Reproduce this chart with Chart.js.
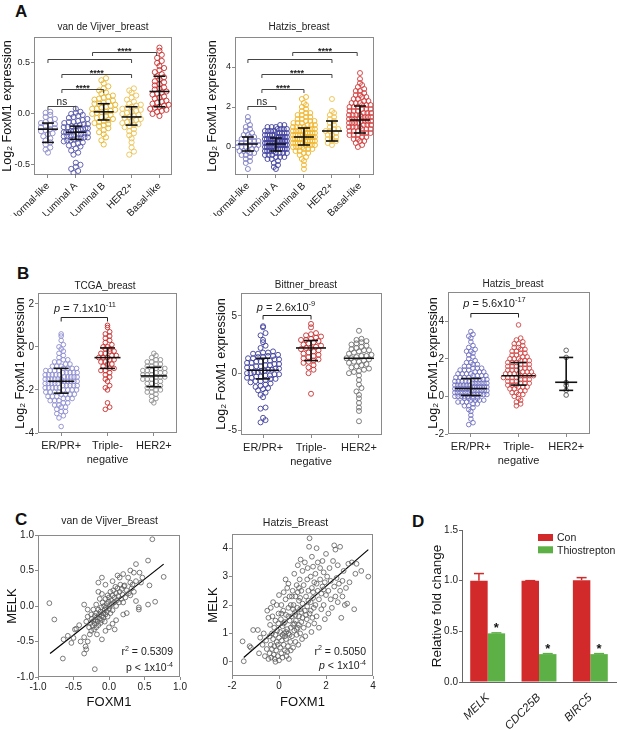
<!DOCTYPE html>
<html><head><meta charset="utf-8">
<script src="https://cdn.jsdelivr.net/npm/chart.js@4.4.0/dist/chart.umd.min.js"></script>
<style>
html,body{margin:0;padding:0;background:#fff}
body{width:617px;height:729px;position:relative;overflow:hidden;font-family:"Liberation Sans",Arial,sans-serif}
canvas{position:absolute}
.pl{position:absolute;font-weight:bold;font-size:17px;line-height:17px;color:#111}
</style></head>
<body>
<div class="pl" style="left:15px;top:3px">A</div>
<div class="pl" style="left:17px;top:265px">B</div>
<div class="pl" style="left:15px;top:511px">C</div>
<div class="pl" style="left:412px;top:513px">D</div>
<script>
// ---------------- DATA ----------------
const subtypes = ['Normal-like','Luminal A','Luminal B','HER2+','Basal-like'];
const receptorCats = ['ER/PR+', ['Triple-','negative'], 'HER2+'];

// Panel A - van de Vijver
const vdvNormal = [0.02,0.01,-0.01,-0.03,-0.05,-0.06,-0.08,-0.09,-0.10,-0.11,-0.12,-0.13,-0.14,-0.15,-0.16,-0.17,-0.19,-0.20,-0.22,-0.24,-0.26,-0.28,-0.30,-0.33,-0.35,-0.38];
const vdvLumA = [0.05,0.02,0.01,0.0,-0.01,-0.02,-0.03,-0.04,-0.05,-0.06,-0.07,-0.08,-0.08,-0.09,-0.10,-0.10,-0.11,-0.12,-0.12,-0.13,-0.13,-0.14,-0.14,-0.15,-0.15,-0.16,-0.16,-0.17,-0.17,-0.18,-0.18,-0.18,-0.19,-0.19,-0.20,-0.20,-0.21,-0.21,-0.22,-0.22,-0.23,-0.23,-0.24,-0.24,-0.25,-0.26,-0.26,-0.27,-0.28,-0.29,-0.30,-0.31,-0.32,-0.34,-0.36,-0.38,-0.40,-0.48,-0.50,-0.52,-0.54,-0.56,-0.58];
const vdvLumB = [0.35,0.33,0.30,0.27,0.25,0.23,0.21,0.20,0.18,0.17,0.16,0.15,0.14,0.13,0.12,0.11,0.10,0.10,0.09,0.08,0.07,0.06,0.05,0.05,0.04,0.03,0.02,0.02,0.01,0.0,-0.01,-0.02,-0.03,-0.04,-0.05,-0.06,-0.07,-0.08,-0.09,-0.10,-0.11,-0.12,-0.14,-0.16,-0.18,-0.20,-0.23,-0.26,-0.30];
const vdvHER2 = [0.25,0.23,0.21,0.18,0.16,0.14,0.12,0.10,0.09,0.08,0.07,0.06,0.05,0.04,0.03,0.02,0.01,0.0,-0.01,-0.02,-0.03,-0.04,-0.05,-0.06,-0.07,-0.08,-0.09,-0.10,-0.11,-0.12,-0.13,-0.15,-0.17,-0.19,-0.21,-0.24,-0.28,-0.33,-0.37,-0.40];
const vdvBasal = [0.65,0.62,0.58,0.55,0.52,0.50,0.47,0.45,0.43,0.41,0.39,0.37,0.36,0.34,0.32,0.31,0.29,0.28,0.26,0.25,0.24,0.22,0.21,0.20,0.19,0.17,0.16,0.15,0.13,0.12,0.11,0.10,0.09,0.08,0.07,0.06,0.05,0.04,0.03,0.02,0.0,-0.02];
const vdvMedian = [-0.15,-0.18,0.02,-0.03,0.22];
const vdvQ1 = [-0.28,-0.25,-0.06,-0.11,0.07];
const vdvQ3 = [-0.09,-0.12,0.10,0.07,0.37];
const vdvBrackets = [
  {from:0, to:1, y:0.078, label:'ns'},
  {from:0.5, to:2, y:0.242, label:'****'},
  {from:0.5, to:3, y:0.392, label:'****'},
  {from:0, to:3, y:0.536, label:''},
  {from:1.6, to:3.9, y:0.605, label:'****'}
];

// Panel A - Hatzis
const hzNormal = [1.5,1.3,1.1,1.0,0.9,0.8,0.7,0.6,0.6,0.5,0.5,0.4,0.4,0.3,0.3,0.3,0.2,0.2,0.2,0.1,0.1,0.1,0.0,0.0,0.0,-0.1,-0.1,-0.2,-0.2,-0.2,-0.3,-0.3,-0.4,-0.4,-0.5,-0.6,-0.7,-0.8,-1.1];
const hzLumA = [1.1,1.1,1.0,1.0,1.0,0.9,0.9,0.9,0.9,0.8,0.8,0.8,0.8,0.7,0.7,0.7,0.7,0.7,0.6,0.6,0.6,0.6,0.6,0.5,0.5,0.5,0.5,0.5,0.5,0.4,0.4,0.4,0.4,0.4,0.4,0.3,0.3,0.3,0.3,0.3,0.3,0.3,0.2,0.2,0.2,0.2,0.2,0.2,0.2,0.1,0.1,0.1,0.1,0.1,0.1,0.1,0.0,0.0,0.0,0.0,0.0,0.0,-0.1,-0.1,-0.1,-0.1,-0.1,-0.1,-0.2,-0.2,-0.2,-0.2,-0.2,-0.3,-0.3,-0.3,-0.3,-0.4,-0.4,-0.4,-0.5,-0.5,-0.5,-0.6,-0.6,-0.7,-0.8,-0.9,-1.0,-1.1];
const hzLumB = [2.5,2.4,2.2,2.1,2.0,1.9,1.8,1.7,1.7,1.6,1.6,1.5,1.5,1.4,1.4,1.3,1.3,1.3,1.2,1.2,1.2,1.1,1.1,1.1,1.0,1.0,1.0,1.0,0.9,0.9,0.9,0.9,0.8,0.8,0.8,0.8,0.7,0.7,0.7,0.7,0.7,0.6,0.6,0.6,0.6,0.6,0.5,0.5,0.5,0.5,0.5,0.5,0.4,0.4,0.4,0.4,0.4,0.3,0.3,0.3,0.3,0.3,0.2,0.2,0.2,0.2,0.2,0.1,0.1,0.1,0.1,0.0,0.0,0.0,0.0,-0.1,-0.1,-0.1,-0.2,-0.2,-0.3,-0.3,-0.4,-0.5,-0.6,-0.7,-0.9,-1.1];
const hzHER2 = [2.4,1.8,1.7,1.6,1.5,1.4,1.3,1.2,1.1,1.0,0.9,0.9,0.8,0.8,0.7,0.6,0.6,0.5,0.4,0.4,0.3,0.3,0.2,0.1];
const hzBasal = [3.7,3.4,3.2,3.1,3.0,2.9,2.8,2.8,2.7,2.6,2.6,2.5,2.5,2.4,2.4,2.3,2.3,2.2,2.2,2.2,2.1,2.1,2.1,2.0,2.0,2.0,1.9,1.9,1.9,1.8,1.8,1.8,1.7,1.7,1.7,1.6,1.6,1.6,1.6,1.5,1.5,1.5,1.5,1.4,1.4,1.4,1.4,1.3,1.3,1.3,1.3,1.2,1.2,1.2,1.2,1.1,1.1,1.1,1.0,1.0,1.0,1.0,0.9,0.9,0.9,0.8,0.8,0.8,0.7,0.7,0.7,0.6,0.6,0.6,0.5,0.5,0.4,0.4,0.3,0.3,0.2,0.1,0.0];
const hzMedian = [0.15,0.15,0.5,0.8,1.35];
const hzQ1 = [-0.2,-0.2,0.1,0.3,0.7];
const hzQ3 = [0.5,0.45,0.95,1.3,2.05];
const hzBrackets = [
  {from:0, to:1, y:2.05, label:'ns'},
  {from:0.5, to:2, y:2.88, label:'****'},
  {from:0.5, to:3, y:3.65, label:'****'},
  {from:0, to:3, y:4.38, label:''},
  {from:1.6, to:3.9, y:4.73, label:'****'}
];

// Panel B - TCGA
const tcgaER = [0.6,0.5,0.3,0.1,0.0,-0.1,-0.2,-0.3,-0.4,-0.5,-0.6,-0.6,-0.7,-0.7,-0.8,-0.8,-0.9,-0.9,-0.9,-1.0,-1.0,-1.0,-1.0,-1.1,-1.1,-1.1,-1.1,-1.2,-1.2,-1.2,-1.2,-1.2,-1.3,-1.3,-1.3,-1.3,-1.3,-1.4,-1.4,-1.4,-1.4,-1.4,-1.5,-1.5,-1.5,-1.5,-1.5,-1.5,-1.6,-1.6,-1.6,-1.6,-1.6,-1.6,-1.7,-1.7,-1.7,-1.7,-1.7,-1.8,-1.8,-1.8,-1.8,-1.8,-1.9,-1.9,-1.9,-1.9,-1.9,-2.0,-2.0,-2.0,-2.0,-2.1,-2.1,-2.1,-2.1,-2.2,-2.2,-2.2,-2.2,-2.3,-2.3,-2.3,-2.4,-2.4,-2.4,-2.5,-2.5,-2.5,-2.6,-2.6,-2.7,-2.7,-2.8,-2.8,-2.9,-3.0,-3.0,-3.1,-3.2,-3.3,-3.7];
const tcgaTN = [1.0,0.9,0.7,0.6,0.5,0.4,0.3,0.2,0.1,0.0,0.0,-0.1,-0.1,-0.2,-0.2,-0.3,-0.3,-0.4,-0.4,-0.5,-0.5,-0.5,-0.6,-0.6,-0.7,-0.7,-0.8,-0.8,-0.9,-1.0,-1.0,-1.1,-1.1,-1.2,-1.3,-1.4,-1.5,-1.6,-1.8,-1.9,-2.0,-2.6,-2.8,-2.9];
const tcgaHER2 = [-0.3,-0.4,-0.5,-0.6,-0.6,-0.7,-0.7,-0.8,-0.8,-0.9,-0.9,-1.0,-1.0,-1.0,-1.1,-1.1,-1.1,-1.2,-1.2,-1.2,-1.3,-1.3,-1.3,-1.4,-1.4,-1.4,-1.5,-1.5,-1.5,-1.6,-1.6,-1.7,-1.7,-1.8,-1.8,-1.9,-1.9,-2.0,-2.0,-2.1,-2.1,-2.2,-2.3,-2.4,-2.5,-2.6];
const tcgaMedian = [-1.6,-0.5,-1.35];
const tcgaQ1 = [-2.15,-1.0,-1.85];
const tcgaQ3 = [-1.0,-0.05,-0.95];

// Panel B - Bittner
const bitER = [4.1,4.0,3.5,3.3,2.9,2.7,2.4,2.2,1.9,1.8,1.8,1.7,1.7,1.6,1.5,1.5,1.4,1.4,1.3,1.3,1.2,1.2,1.1,1.1,1.0,1.0,0.9,0.9,0.8,0.8,0.7,0.7,0.6,0.6,0.5,0.5,0.4,0.4,0.3,0.3,0.2,0.2,0.1,0.1,0.0,0.0,-0.1,-0.1,-0.2,-0.2,-0.3,-0.3,-0.4,-0.4,-0.5,-0.5,-0.6,-0.7,-0.7,-0.8,-0.9,-1.0,-1.1,-1.2,-1.3,-1.4,-1.5,-1.7,-1.9,-2.1,-3.0,-3.1,-3.9,-4.1,-4.3];
const bitTN = [4.3,4.0,3.5,3.4,3.3,3.2,3.1,3.0,2.9,2.9,2.8,2.7,2.6,2.5,2.4,2.3,2.2,2.2,2.1,2.0,1.9,1.8,1.7,1.6,1.5,1.4,1.3,1.2,1.1,1.0,0.9,0.7,0.5,0.3,0.0,-1.8];
const bitHER2 = [3.7,3.0,2.9,2.8,2.7,2.6,2.5,2.4,2.3,2.2,2.1,2.0,2.0,1.9,1.8,1.7,1.6,1.5,1.5,1.4,1.3,1.3,1.2,1.1,1.0,1.0,0.9,0.8,0.7,0.6,0.5,0.4,0.3,0.2,0.1,0.0,-0.2,-0.6,-1.0,-1.3,-1.6,-1.9,-2.2,-2.6,-3.0,-3.3,-4.2];
const bitMedian = [0.25,2.2,1.3];
const bitQ1 = [-0.5,1.1,null];
const bitQ3 = [1.3,2.85,null];

// Panel B - Hatzis
const hzbER = [3.45,3.3,3.2,3.1,2.9,2.7,2.6,2.5,2.4,2.4,2.3,2.2,2.1,2.0,1.9,1.8,1.8,1.7,1.7,1.6,1.6,1.5,1.5,1.5,1.4,1.4,1.4,1.3,1.3,1.3,1.2,1.2,1.2,1.2,1.1,1.1,1.1,1.1,1.0,1.0,1.0,1.0,0.9,0.9,0.9,0.9,0.9,0.8,0.8,0.8,0.8,0.8,0.7,0.7,0.7,0.7,0.7,0.7,0.6,0.6,0.6,0.6,0.6,0.6,0.5,0.5,0.5,0.5,0.5,0.5,0.5,0.4,0.4,0.4,0.4,0.4,0.4,0.4,0.3,0.3,0.3,0.3,0.3,0.3,0.3,0.2,0.2,0.2,0.2,0.2,0.2,0.1,0.1,0.1,0.1,0.1,0.1,0.0,0.0,0.0,0.0,0.0,-0.1,-0.1,-0.1,-0.1,-0.2,-0.2,-0.2,-0.2,-0.3,-0.3,-0.3,-0.4,-0.4,-0.5,-0.5,-0.6,-0.7,-0.8,-1.0,-1.2,-1.4,-1.5];
const hzbTN = [3.8,3.1,3.0,2.9,2.8,2.8,2.7,2.6,2.6,2.5,2.5,2.4,2.4,2.3,2.3,2.2,2.2,2.1,2.1,2.0,2.0,2.0,1.9,1.9,1.9,1.8,1.8,1.8,1.7,1.7,1.7,1.6,1.6,1.6,1.5,1.5,1.5,1.4,1.4,1.4,1.3,1.3,1.3,1.2,1.2,1.2,1.2,1.1,1.1,1.1,1.1,1.0,1.0,1.0,1.0,0.9,0.9,0.9,0.8,0.8,0.8,0.7,0.7,0.7,0.6,0.6,0.6,0.5,0.5,0.5,0.4,0.4,0.3,0.3,0.2,0.2,0.1,0.1,0.0,-0.1,-0.2,-0.3,-0.4,-0.5];
const hzbHER2 = [2.45,2.07,0.74,0.58,0.32,0.07];
const hzbMedian = [0.42,1.1,0.75];
const hzbQ1 = [0.05,0.6,0.32];
const hzbQ3 = [0.95,1.8,2.07];

// Panel C - scatter (FOXM1, MELK)
const vdvScatter = [[-0.84,0.04],[-0.77,-0.19],[-0.65,-0.74],[-0.64,-0.47],[-0.58,-0.42],[-0.53,-0.52],[-0.5,-0.45],[-0.48,-0.33],[-0.46,-0.32],[-0.42,-0.27],[-0.40,-0.50],[-0.35,-0.67],[-0.35,-0.44],[-0.33,-0.57],[-0.32,-0.61],[-0.30,-0.50],[-0.2,-0.89],[-0.35,0.02],[-0.3,-0.05],
[0.61,0.94],[0.77,0.41],[0.65,0.06],[0.55,0.02],[0.57,0.29],[0.55,0.64],[0.38,0.59],[0.43,0.47],[0.47,0.4],[0.3,0.5],[0.35,0.47],[0.42,-0.05],[0.42,-0.02],[0.38,0.07],[0.45,0.33],[0.27,0.4],[0.2,0.45],[0.15,0.4],[0.12,0.43],[-0.1,0.4],[-0.15,0.33],[-0.05,0.3],[0.05,0.35],[-0.1,0.17],[-0.15,0.2],[0.2,-0.12],[0.25,-0.1],[0.1,-0.2],[0.05,-0.25],[0.0,-0.3],[0.08,-0.33],[-0.05,-0.35],[-0.1,-0.47],[-0.17,-0.4],[0.33,0.3],[0.3,0.33],[0.22,0.29],[0.25,0.22],[0.28,0.18],[0.3,0.15],[0.32,0.25],[0.35,0.2],[0.38,0.35],
[-0.28,-0.30],[-0.26,-0.24],[-0.25,-0.35],[-0.24,-0.18],[-0.23,-0.28],[-0.22,-0.21],[-0.21,-0.33],[-0.20,-0.14],[-0.20,-0.25],[-0.19,-0.20],[-0.18,-0.30],[-0.18,-0.10],[-0.17,-0.16],[-0.16,-0.22],[-0.15,-0.05],[-0.15,-0.27],[-0.14,-0.12],[-0.13,-0.18],[-0.12,-0.08],[-0.12,-0.24],[-0.11,-0.02],[-0.10,-0.14],[-0.10,-0.20],[-0.09,0.05],[-0.08,-0.10],[-0.08,-0.16],[-0.07,0.0],[-0.06,-0.05],[-0.06,-0.22],[-0.05,0.10],[-0.05,-0.12],[-0.04,-0.02],[-0.03,0.03],[-0.03,-0.08],[-0.02,0.15],[-0.02,-0.15],[-0.01,0.06],[0.0,-0.04],[0.0,0.12],[0.01,0.0],[0.02,0.20],[0.02,-0.10],[0.03,0.08],[0.04,0.03],[0.05,0.15],[0.05,-0.06],[0.06,0.22],[0.07,0.05],[0.08,0.12],[0.09,0.27],[0.10,0.0],[0.10,0.18],[0.11,0.08],[0.12,0.25],[0.13,0.14],[0.14,0.05],[0.15,0.20],[0.16,0.30],[0.17,0.10],[0.18,0.24],[0.19,0.16],[0.20,0.05],[0.21,0.28],[0.23,0.12],[-0.30,-0.15],[-0.32,-0.22],[-0.27,-0.40],[-0.22,-0.05],[-0.25,-0.12],[-0.13,0.1],[-0.18,0.02]];
const vdvFit = [[-0.83,-0.67],[0.77,0.59]];

const hzScatter = [[-1.5,0.02],[-1.55,0.72],[-1.1,1.12],[-0.9,1.12],[-1.2,0.5],[-1.25,0.55],[-0.85,0.3],[-0.8,0.85],[-0.7,0.6],[-0.65,1.0],[-0.6,0.2],[-0.55,0.75],[-0.5,1.8],[-0.52,0.45],[-0.45,0.1],
[-0.4,0.3],[-0.4,0.9],[-0.38,1.3],[-0.35,0.6],[-0.33,0.15],[-0.3,1.0],[-0.3,0.45],[-0.28,1.6],[-0.25,0.8],[-0.22,0.25],[-0.2,1.2],[-0.2,0.55],[-0.18,0.1],[-0.15,0.95],[-0.15,1.45],[-0.12,0.4],[-0.1,0.7],[-0.1,2.0],[-0.08,1.1],[-0.05,0.2],[-0.05,0.6],[-0.03,1.35],[0.0,0.85],[0.0,0.05],[0.0,2.35],[-0.02,1.7],[-0.45,1.55],[-0.35,1.9],[-0.25,2.1],[-0.15,0.0],
[0.05,0.5],[0.05,1.05],[0.08,1.5],[0.1,0.3],[0.1,2.0],[0.12,0.75],[0.15,1.25],[0.15,0.15],[0.18,1.8],[0.2,0.6],[0.2,2.45],[0.22,1.0],[0.25,0.4],[0.25,1.4],[0.28,2.2],[0.3,0.8],[0.3,1.65],[0.32,0.2],[0.35,1.15],[0.35,2.6],[0.38,0.55],[0.4,1.9],[0.4,1.0],[0.42,0.1],[0.45,1.45],[0.45,2.3],[0.48,0.7],[0.5,1.2],[0.5,2.0],[0.5,0.4],[0.1,1.7],[0.2,1.35],[0.3,1.05],[0.4,1.6],[0.15,0.95],[0.25,0.9],[0.35,0.35],[0.45,0.95],[0.28,2.9],[0.4,2.75],
[0.55,1.6],[0.55,0.9],[0.58,2.5],[0.6,1.3],[0.6,0.5],[0.62,2.0],[0.65,1.1],[0.65,3.1],[0.68,1.75],[0.7,0.7],[0.7,2.3],[0.72,1.45],[0.75,0.95],[0.75,2.7],[0.78,1.9],[0.8,1.2],[0.8,3.4],[0.82,0.6],[0.85,2.15],[0.85,1.6],[0.88,2.9],[0.9,1.0],[0.9,1.85],[0.92,3.6],[0.95,1.4],[0.95,2.5],[0.98,0.8],[1.0,2.05],[1.0,1.55],[1.0,3.2],[0.6,1.85],[0.7,1.65],[0.8,2.45],[0.9,2.25],[0.65,1.35],[0.75,1.15],[0.85,1.3],[0.95,1.75],[0.55,2.3],[0.85,2.6],
[1.05,1.2],[1.05,2.7],[1.1,1.8],[1.1,3.5],[1.12,0.9],[1.15,2.3],[1.18,1.5],[1.2,2.9],[1.2,1.95],[1.22,3.3],[1.25,1.3],[1.25,2.5],[1.28,4.05],[1.3,4.35],[1.3,1.7],[1.35,2.1],[1.35,3.0],[1.38,1.05],[1.4,2.6],[1.4,3.7],[1.42,1.55],[1.45,2.25],[1.45,3.35],[1.48,1.9],[1.5,2.8],[1.5,1.35],[1.15,1.65],[1.25,2.15],[1.35,1.8],[1.45,2.45],
[1.55,3.1],[1.55,2.0],[1.6,4.0],[1.6,1.6],[1.65,2.5],[1.65,3.5],[1.7,2.2],[1.7,1.2],[1.75,2.9],[1.75,3.3],[1.8,2.4],[1.8,1.85],[1.85,3.55],[1.85,2.65],[1.9,2.0],[1.9,3.15],[1.95,1.5],[1.95,2.8],[2.0,2.35],[2.0,3.8],[1.6,2.75],[1.9,2.55],
[2.05,3.0],[2.1,2.5],[2.1,1.7],[2.15,3.3],[2.2,2.2],[2.2,2.85],[2.25,1.9],[2.3,3.55],[2.35,4.1],[2.35,2.65],[2.4,3.95],[2.4,2.3],[2.45,2.95],[2.5,2.1],[2.5,3.4],[2.55,2.75],[2.6,4.05],[2.6,2.5],
[2.65,1.55],[2.7,2.85],[2.75,3.2],[2.8,2.0],[2.85,2.6],[2.9,2.05],[2.95,3.45],[3.0,2.8],[3.1,3.5],[3.2,1.85],[3.25,3.1],[3.3,3.45],[3.5,3.2],[3.8,3.0],[2.7,2.3]];
const hzFit = [[-1.5,0.15],[3.8,3.95]];

// Panel D
const genes = ['MELK','CDC25B','BIRC5'];
const conValues = [1.0,1.0,1.005];
const conErr = [0.07,0.0,0.025];
const thioValues = [0.48,0.275,0.275];
const thioErr = [0.005,0.005,0.005];

// ---------------- HELPERS ----------------
const FAM = "'Liberation Sans', Arial, Helvetica, sans-serif";
Chart.defaults.font.family = FAM;
Chart.defaults.color = '#222';
Chart.defaults.animation = false;

function mkCanvas(g){
  const c = document.createElement('canvas');
  c.width = g.cr-g.cl; c.height = g.cb-g.ct;
  c.style.left = g.cl+'px'; c.style.top = g.ct+'px';
  c.style.width = (g.cr-g.cl)+'px'; c.style.height = (g.cb-g.ct)+'px';
  document.body.appendChild(c);
  return c;
}
function rich(ctx, x, y, segs, size, align, color){
  ctx.save(); ctx.fillStyle = color||'#222'; ctx.textBaseline='alphabetic'; ctx.textAlign='left';
  const f = s => `${s.b?'bold ':''}${s.i?'italic ':''}${(s.sup||s.sub)?(size*0.68).toFixed(1):size}px ${FAM}`;
  let w=0; segs.forEach(s=>{ctx.font=f(s); w+=ctx.measureText(s.t).width;});
  let cx = align==='center'? x-w/2 : align==='right'? x-w : x;
  segs.forEach(s=>{ctx.font=f(s); const dy = s.sup? -size*0.42 : s.sub? size*0.22 : 0; ctx.fillText(s.t,cx,y+dy); cx+=ctx.measureText(s.t).width;});
  ctx.restore();
}
function seg(ctx,x1,y1,x2,y2){ctx.beginPath();ctx.moveTo(x1,y1);ctx.lineTo(x2,y2);ctx.stroke();}
const boxPlugin = {id:'box', beforeDatasetsDraw(ch){
  const a = ch.chartArea, c = ch.ctx; c.save(); c.strokeStyle='#8a8a8a'; c.lineWidth=1;
  c.strokeRect(Math.round(a.left)+0.5, Math.round(a.top)+0.5, Math.round(a.right-a.left)-1, Math.round(a.bottom-a.top)-1); c.restore();
}};
function textPlugin(g, items){ return {id:'txt', afterDraw(ch){
  items.forEach(it=>rich(ch.ctx, it.x-g.cl, it.y-g.ct, it.segs, it.size, it.align||'center', it.color));
}};}
function swarm(vals, ci, pxY, pxX, s){
  const bins = {};
  vals.forEach(v=>{ const k = Math.floor(v*pxY/s.dh + 1e-6); (bins[k]=bins[k]||[]).push(v); });
  const out = [];
  Object.values(bins).forEach(arr=>{
    arr.sort((a,b)=>a-b);
    const n = arr.length; const sp = n>1 ? Math.min(s.d, 2*s.half/(n-1)) : 0;
    arr.forEach((v,i)=>out.push({x: ci + (i-(n-1)/2)*sp/pxX, y: v}));
  });
  return out;
}
function tickGrid(color){ return {display:true, drawOnChartArea:false, drawTicks:true, tickLength:3, color:color||'#8a8a8a', lineWidth:1}; }

function dotChart(o){
  const g = o.geo;
  const c = mkCanvas(g);
  const pxY = (g.B-g.T)/(o.yMax-o.yMin), pxX = (g.R-g.L)/(o.xMax-o.xMin);
  const datasets = o.groups.map((vals,i)=>({
    data: swarm(vals, i, pxY, pxX, o.sw), borderColor: o.colors[i], backgroundColor:'rgba(0,0,0,0)',
    pointRadius: o.sw.r, pointHoverRadius: o.sw.r, borderWidth: o.sw.lw
  }));
  const stats = {id:'stats', afterDatasetsDraw(ch){
    const ctx = ch.ctx, xs = ch.scales.x, ys = ch.scales.y;
    ctx.save(); ctx.strokeStyle='#111'; ctx.lineWidth=o.eb.lw;
    o.med.forEach((m,i)=>{
      const x = xs.getPixelForValue(i), ym = ys.getPixelForValue(m);
      seg(ctx, x-o.eb.mw[i], ym, x+o.eb.mw[i], ym);
      if(o.q1[i]!=null){
        const y1 = ys.getPixelForValue(o.q1[i]), y3 = ys.getPixelForValue(o.q3[i]);
        seg(ctx,x,y1,x,y3); seg(ctx,x-o.eb.cw[i],y1,x+o.eb.cw[i],y1); seg(ctx,x-o.eb.cw[i],y3,x+o.eb.cw[i],y3);
      }
    });
    ctx.lineWidth=1; ctx.strokeStyle='#444';
    (o.brackets||[]).forEach(b=>{
      const x1 = xs.getPixelForValue(b.from), x2 = xs.getPixelForValue(b.to), y = Math.round(ys.getPixelForValue(b.y))+0.5;
      ctx.beginPath(); ctx.moveTo(x1,y+3.5); ctx.lineTo(x1,y); ctx.lineTo(x2,y); ctx.lineTo(x2,y+3.5); ctx.stroke();
      if(b.label){
        ctx.fillStyle='#222'; ctx.textAlign='center'; ctx.textBaseline='alphabetic';
        if(b.label==='ns'){ ctx.font=`10px ${FAM}`; ctx.fillText('ns',(x1+x2)/2,y-2); }
        else { ctx.font=`bold 9px ${FAM}`; ctx.fillText(b.label,(x1+x2)/2,y+1.5); }
      }
    });
    if(o.pText){
      const x1 = xs.getPixelForValue(0), x2 = xs.getPixelForValue(1), y = Math.round(ys.getPixelForValue(o.pText.y))+0.5;
      ctx.strokeStyle='#222';
      ctx.beginPath(); ctx.moveTo(x1,y+4); ctx.lineTo(x1,y); ctx.lineTo(x2,y); ctx.lineTo(x2,y+4); ctx.stroke();
    }
    ctx.restore();
  }};
  return new Chart(c, {
    type:'scatter', data:{datasets},
    options:{
      responsive:false, animation:false, events:[],
      layout:{padding:{left:0, top:g.T-g.ct, right:g.cr-g.R, bottom:0}},
      scales:{
        x:{type:'linear', min:o.xMin, max:o.xMax,
          afterBuildTicks:s=>{s.ticks=o.cats.map((_,i)=>({value:i}));},
          afterFit:s=>{s.height=g.cb-g.B;},
          grid:tickGrid(), border:{display:false},
          ticks:{autoSkip:false, maxRotation:o.rot, minRotation:o.rot, padding:o.xPad, color:'#222', font:{size:o.xFont, lineHeight:1.25}, callback:v=>o.cats[v]}
        },
        y:{type:'linear', min:o.yMin, max:o.yMax,
          afterBuildTicks:s=>{s.ticks=o.yTicks.map(v=>({value:v}));},
          afterFit:s=>{s.width=g.L-g.cl;},
          grid:tickGrid(), border:{display:false},
          ticks:{padding:1, color:'#222', font:{size:o.yFont}, callback:o.yFmt},
          title:{display:true, text:'Log\u2082 FoxM1 expression', color:'#111', font:{size:12.5}, padding:{top:o.yTitleX-g.cl-7.5, bottom:0}}
        }
      },
      plugins:{legend:{display:false}, tooltip:{enabled:false}}
    },
    plugins:[boxPlugin, stats, textPlugin(g, o.texts)]
  });
}

function scatterChart(o){
  const g = o.geo; const c = mkCanvas(g);
  return new Chart(c, {
    type:'scatter',
    data:{datasets:[
      {data:o.pts.map(p=>({x:p[0],y:p[1]})), borderColor:'#5a5a5a', backgroundColor:'rgba(0,0,0,0)', pointRadius:2.4, borderWidth:0.8},
      {data:o.fit.map(p=>({x:p[0],y:p[1]})), showLine:true, borderColor:'#000', borderWidth:1.2, pointRadius:0}
    ]},
    options:{
      responsive:false, animation:false, events:[],
      layout:{padding:{left:0, top:g.T-g.ct, right:g.cr-g.R, bottom:0}},
      scales:{
        x:{type:'linear', min:o.xMin, max:o.xMax,
          afterBuildTicks:s=>{s.ticks=o.xTicks.map(v=>({value:v}));},
          afterFit:s=>{s.height=g.cb-g.B;},
          grid:tickGrid(), border:{display:false},
          ticks:{autoSkip:false, maxRotation:0, padding:1, color:'#222', font:{size:10}, callback:o.xFmt},
          title:{display:true, text:'FOXM1', color:'#111', font:{size:13}, padding:{top:0, bottom:g.cb-o.xTitleY-7.8}}
        },
        y:{type:'linear', min:o.yMin, max:o.yMax,
          afterBuildTicks:s=>{s.ticks=o.yTicks.map(v=>({value:v}));},
          afterFit:s=>{s.width=g.L-g.cl;},
          grid:tickGrid(), border:{display:false},
          ticks:{padding:1, color:'#222', font:{size:10}, callback:o.yFmt},
          title:{display:true, text:'MELK', color:'#111', font:{size:13}, padding:{top:o.yTitleX-g.cl-7.8, bottom:0}}
        }
      },
      plugins:{legend:{display:false}, tooltip:{enabled:false}}
    },
    plugins:[boxPlugin, textPlugin(g, o.texts)]
  });
}

// ---------------- PANEL A ----------------
const swA = {r:2.6, lw:0.9, dh:4.6, d:4.6, half:12};
dotChart({
  geo:{L:34,T:37,R:172,B:175, cl:0,ct:15,cr:176,cb:216},
  cats:subtypes, groups:[vdvNormal,vdvLumA,vdvLumB,vdvHER2,vdvBasal],
  colors:['#8a8acb','#5656ac','#e7b52e','#ebc255','#c92e2e'],
  xMin:-0.5, xMax:4.45, yMin:-0.6, yMax:0.755, yTicks:[-0.5,0,0.5], yFmt:v=>v.toFixed(1),
  rot:45, xPad:2, xFont:10, yFont:9, yTitleX:8, sw:swA,
  med:vdvMedian, q1:vdvQ1, q3:vdvQ3, eb:{lw:1.6, mw:[10,10,10,10,10], cw:[6,6,6,6,6]},
  brackets:vdvBrackets,
  texts:[{x:103, y:30, size:10, segs:[{t:'van de Vijver_breast'}]}]
});
dotChart({
  geo:{L:235,T:37,R:374,B:175, cl:203,ct:15,cr:378,cb:216},
  cats:subtypes, groups:[hzNormal,hzLumA,hzLumB,hzHER2,hzBasal],
  colors:['#7c7cc2','#40409e','#efb326','#f0c14a','#d23c3c'],
  xMin:-0.46, xMax:4.5, yMin:-1.4, yMax:5.5, yTicks:[0,2,4], yFmt:v=>String(v),
  rot:45, xPad:2, xFont:10, yFont:9, yTitleX:213, sw:{r:2.5, lw:0.9, dh:4, d:4.2, half:11},
  med:hzMedian, q1:hzQ1, q3:hzQ3, eb:{lw:1.6, mw:[10,10,10,10,10], cw:[6,6,6,6,6]},
  brackets:hzBrackets,
  texts:[{x:299, y:30, size:10, segs:[{t:'Hatzis_breast'}]}]
});

// ---------------- PANEL B ----------------
dotChart({
  geo:{L:38,T:293,R:177,B:433, cl:11,ct:272,cr:181,cb:472},
  cats:receptorCats, groups:[tcgaER,tcgaTN,tcgaHER2],
  colors:['#8c8cd0','#c82a2a','#8e8e8e'],
  xMin:-0.5, xMax:2.5, yMin:-4, yMax:2.5, yTicks:[-4,-2,0,2], yFmt:v=>String(v),
  rot:0, xPad:3, xFont:11, yFont:10, yTitleX:21, sw:{r:2.3, lw:0.9, dh:4.3, d:4.4, half:16},
  med:tcgaMedian, q1:tcgaQ1, q3:tcgaQ3, eb:{lw:1.6, mw:[13,13,13], cw:[7.5,7.5,7.5]},
  pText:{y:1.4},
  texts:[{x:105, y:289, size:10, segs:[{t:'TCGA_breast'}]},
         {x:85, y:311.5, size:11, segs:[{t:'p',i:true},{t:' = 7.1x10'},{t:'-11',sup:true}]}]
});
dotChart({
  geo:{L:241,T:293,R:382,B:435, cl:212,ct:272,cr:386,cb:472},
  cats:receptorCats, groups:[bitER,bitTN,bitHER2],
  colors:['#3d3d9c','#c83030','#707070'],
  xMin:-0.46, xMax:2.48, yMin:-5.4, yMax:7, yTicks:[-5,0,5], yFmt:v=>String(v),
  rot:0, xPad:3, xFont:11, yFont:10, yTitleX:222, sw:{r:2.5, lw:0.9, dh:4.6, d:5, half:16},
  med:bitMedian, q1:bitQ1, q3:bitQ3, eb:{lw:1.6, mw:[16,15,15], cw:[7,7,7]},
  pText:{y:5.1},
  texts:[{x:306, y:287.5, size:10, segs:[{t:'Bittner_breast'}]},
         {x:286, y:311, size:11, segs:[{t:'p',i:true},{t:' = 2.6x10'},{t:'-9',sup:true}]}]
});
dotChart({
  geo:{L:448,T:292,R:590,B:434, cl:424,ct:272,cr:594,cb:472},
  cats:receptorCats, groups:[hzbER,hzbTN,hzbHER2],
  colors:['#7070bf','#d04444','#555555'],
  xMin:-0.48, xMax:2.5, yMin:-2, yMax:5.55, yTicks:[-2,0,2,4], yFmt:v=>String(v),
  rot:0, xPad:3, xFont:11, yFont:10, yTitleX:434, sw:{r:2.3, lw:0.9, dh:3.76, d:4.3, half:16},
  med:hzbMedian, q1:hzbQ1, q3:hzbQ3, eb:{lw:1.6, mw:[16,17,11], cw:[10,8,7]},
  pText:{y:4.41},
  texts:[{x:513, y:286.5, size:10, segs:[{t:'Hatzis_breast'}]},
         {x:494.5, y:307, size:11, segs:[{t:'p',i:true},{t:' = 5.6x10'},{t:'-17',sup:true}]}]
});

// ---------------- PANEL C ----------------
scatterChart({
  geo:{L:38,T:535,R:180,B:677, cl:2,ct:510,cr:190,cb:714},
  pts:vdvScatter, fit:vdvFit, xMin:-1, xMax:1, yMin:-1, yMax:1,
  xTicks:[-1,-0.5,0,0.5,1], yTicks:[-1,-0.5,0,0.5,1], xFmt:v=>v.toFixed(1), yFmt:v=>v.toFixed(1),
  yTitleX:12, xTitleY:702,
  texts:[{x:109.5, y:524, size:10.5, segs:[{t:'van de Vijver_Breast'}]},
         {x:173, y:655, size:10.5, align:'right', segs:[{t:'r'},{t:'2',sup:true},{t:' = 0.5309'}]},
         {x:173, y:671, size:10.5, align:'right', segs:[{t:'p < 1x10'},{t:'-4',sup:true}]}]
});
scatterChart({
  geo:{L:232,T:534,R:373,B:676, cl:203,ct:510,cr:382,cb:714},
  pts:hzScatter, fit:hzFit, xMin:-2, xMax:4, yMin:-0.5, yMax:4.5,
  xTicks:[-2,0,2,4], yTicks:[0,1,2,3,4], xFmt:v=>String(v), yFmt:v=>String(v),
  yTitleX:213, xTitleY:702,
  texts:[{x:295.5, y:526, size:10.5, segs:[{t:'Hatzis_Breast'}]},
         {x:366, y:654.5, size:10.5, align:'right', segs:[{t:'r'},{t:'2',sup:true},{t:' = 0.5050'}]},
         {x:366, y:669, size:10.5, align:'right', segs:[{t:'p',i:true},{t:' < 1x10'},{t:'-4',sup:true}]}]
});

// ---------------- PANEL D ----------------
(function(){
  const g = {L:462,T:530,R:616,B:682, cl:427,ct:512,cr:617,cb:729};
  const c = mkCanvas(g);
  const RED='#d22a2a', GREEN='#5cb045';
  const errs = [conErr, thioErr];
  const extras = {id:'dextra', afterDatasetsDraw(ch){
    const ctx = ch.ctx, ys = ch.scales.y;
    ctx.save();
    ch.data.datasets.forEach((ds,di)=>{
      const meta = ch.getDatasetMeta(di);
      meta.data.forEach((bar,i)=>{
        const v = ds.data[i], e = errs[di][i];
        const y0 = ys.getPixelForValue(v), y1 = ys.getPixelForValue(v+e);
        ctx.strokeStyle = ds.backgroundColor; ctx.lineWidth = 1.5;
        seg(ctx, bar.x, y0, bar.x, y1); seg(ctx, bar.x-5, y1, bar.x+5, y1);
        if(di===1){ ctx.fillStyle='#111'; ctx.font=`bold 13px ${FAM}`; ctx.textAlign='center'; ctx.textBaseline='alphabetic'; ctx.fillText('*', bar.x, y1-1); }
      });
    });
    // legend
    ch.data.datasets.forEach((ds,di)=>{
      const by = 534 + di*12.3 - g.ct;
      ctx.fillStyle = ds.backgroundColor; ctx.fillRect(538-g.cl, by, 15, 7);
      ctx.fillStyle = '#222'; ctx.font = `10.5px ${FAM}`; ctx.textAlign='left'; ctx.textBaseline='alphabetic';
      ctx.fillText(ds.label, 557-g.cl, by+7.3);
    });
    ctx.restore();
  }};
  new Chart(c, {
    type:'bar',
    data:{labels:genes, datasets:[
      {label:'Con', data:conValues, backgroundColor:RED, borderWidth:0},
      {label:'Thiostrepton', data:thioValues, backgroundColor:GREEN, borderWidth:0}
    ]},
    options:{
      responsive:false, animation:false, events:[],
      categoryPercentage:0.68, barPercentage:1.0,
      layout:{padding:{left:0, top:g.T-g.ct, right:g.cr-g.R, bottom:0}},
      scales:{
        x:{afterFit:s=>{s.height=g.cb-g.B;}, grid:{display:false}, border:{display:true, color:'#666', width:1},
           ticks:{autoSkip:false, maxRotation:45, minRotation:45, padding:1, color:'#222', font:{size:11.5, style:'italic'}}},
        y:{min:0, max:1.5, afterBuildTicks:s=>{s.ticks=[0,0.5,1,1.5].map(v=>({value:v}));},
           afterFit:s=>{s.width=g.L-g.cl;},
           grid:tickGrid('#666'), border:{display:true, color:'#666', width:1},
           ticks:{padding:1, color:'#222', font:{size:10}, callback:v=>v.toFixed(1)},
           title:{display:true, text:'Relative fold change', color:'#111', font:{size:13.5}, padding:{top:437-g.cl-8.1, bottom:0}}}
      },
      plugins:{legend:{display:false}, tooltip:{enabled:false}}
    },
    plugins:[extras]
  });
})();
</script>
</body></html>
